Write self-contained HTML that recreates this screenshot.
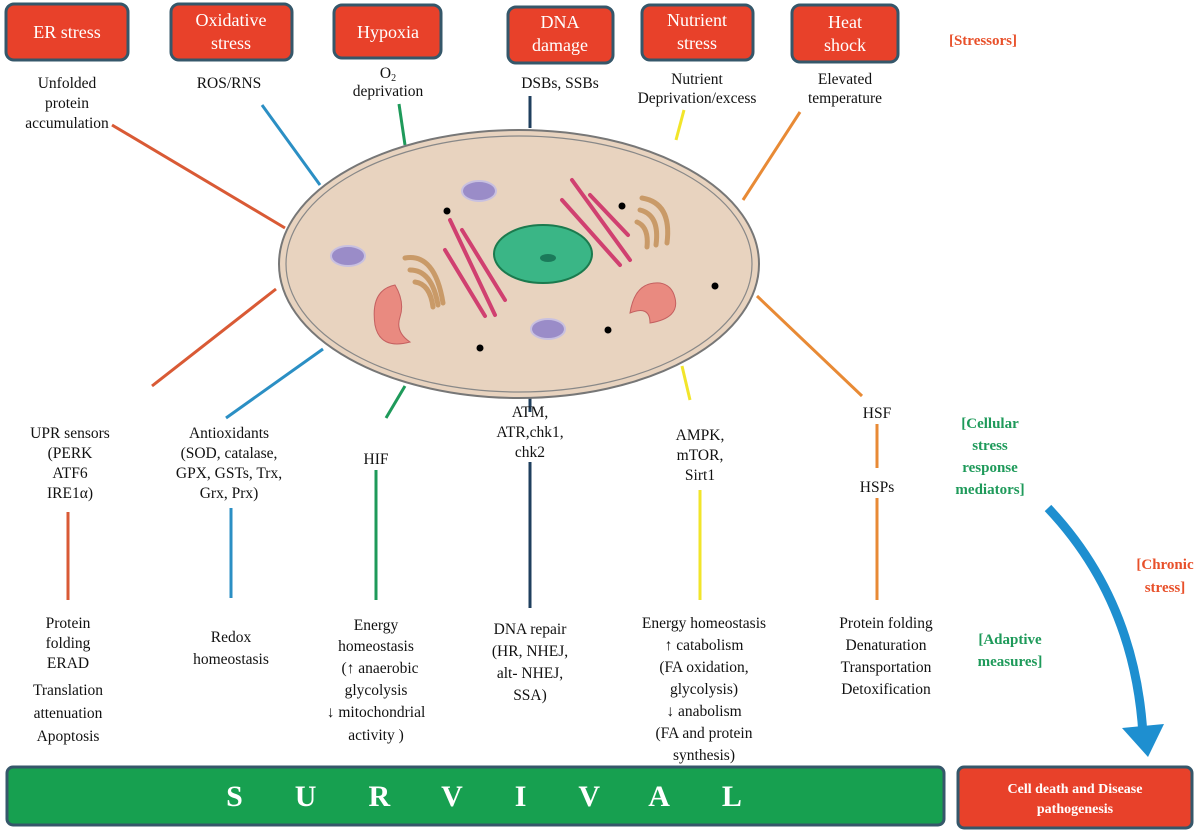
<!DOCTYPE html>
<html><head><meta charset="utf-8"><style>
body{margin:0;background:#fff;}
svg{display:block;font-family:"Liberation Serif",serif;}
.b{fill:#e8412a;stroke:#35576a;stroke-width:3;}
.bt{fill:#fff;font-size:18px;text-anchor:middle;}
.t{fill:#111;font-size:15.5px;text-anchor:middle;}
</style></head><body>
<svg width="1200" height="831" viewBox="0 0 1200 831">
<rect class="b" x="6" y="4" width="122" height="56" rx="8"/><text class="bt" x="67" y="38">ER stress</text>
<rect class="b" x="171" y="4" width="121" height="56" rx="8"/><text class="bt" x="231" y="26">Oxidative</text><text class="bt" x="231" y="49">stress</text>
<rect class="b" x="334" y="5" width="107" height="53" rx="8"/><text class="bt" x="388" y="38">Hypoxia</text>
<rect class="b" x="508" y="7" width="105" height="56" rx="8"/><text class="bt" x="560" y="28">DNA</text><text class="bt" x="560" y="51">damage</text>
<rect class="b" x="642" y="5" width="111" height="55" rx="8"/><text class="bt" x="697" y="26">Nutrient</text><text class="bt" x="697" y="49">stress</text>
<rect class="b" x="792" y="5" width="106" height="57" rx="8"/><text class="bt" x="845" y="28">Heat</text><text class="bt" x="845" y="51">shock</text>
<text x="983" y="45" style="fill:#e8502a;font-size:15px;font-weight:bold;text-anchor:middle">[Stressors]</text>

<text class="t" x="67" y="88">Unfolded</text><text class="t" x="67" y="108">protein</text><text class="t" x="67" y="128">accumulation</text>
<text class="t" x="229" y="88">ROS/RNS</text>
<text class="t" x="388" y="78">O<tspan font-size="10" dy="3">2</tspan></text><text class="t" x="388" y="96">deprivation</text>
<text class="t" x="560" y="88">DSBs, SSBs</text>
<text class="t" x="697" y="84">Nutrient</text><text class="t" x="697" y="103">Deprivation/excess</text>
<text class="t" x="845" y="84">Elevated</text><text class="t" x="845" y="103">temperature</text>

<g stroke-width="3" fill="none">
<line x1="112" y1="125" x2="285" y2="228" stroke="#d95a35"/>
<line x1="276" y1="289" x2="152" y2="386" stroke="#d95a35"/>
<line x1="68" y1="512" x2="68" y2="600" stroke="#d95a35"/>
<line x1="262" y1="105" x2="320" y2="185" stroke="#2b8fc4"/>
<line x1="323" y1="349" x2="226" y2="418" stroke="#2b8fc4"/>
<line x1="231" y1="508" x2="231" y2="598" stroke="#2b8fc4"/>
<line x1="399" y1="104" x2="405" y2="145" stroke="#1e9a5a"/>
<line x1="405" y1="386" x2="386" y2="418" stroke="#1e9a5a"/>
<line x1="376" y1="470" x2="376" y2="600" stroke="#1e9a5a"/>
<line x1="530" y1="96" x2="530" y2="128" stroke="#1f3f5e"/>
<line x1="530" y1="398" x2="530" y2="412" stroke="#1f3f5e"/>
<line x1="530" y1="462" x2="530" y2="608" stroke="#1f3f5e"/>
<line x1="684" y1="110" x2="676" y2="140" stroke="#f2e52a"/>
<line x1="682" y1="366" x2="690" y2="400" stroke="#f2e52a"/>
<line x1="700" y1="490" x2="700" y2="600" stroke="#f2e52a"/>
<line x1="800" y1="112" x2="743" y2="200" stroke="#e88a35"/>
<line x1="757" y1="296" x2="862" y2="396" stroke="#e88a35"/>
<line x1="877" y1="424" x2="877" y2="468" stroke="#e88a35"/>
<line x1="877" y1="498" x2="877" y2="600" stroke="#e88a35"/>
</g>

<ellipse cx="519" cy="264" rx="240" ry="134" fill="#e8d3bf" stroke="#777" stroke-width="2"/>
<ellipse cx="519" cy="264" rx="233" ry="128" fill="none" stroke="#888" stroke-width="1.2"/>
<ellipse cx="543" cy="254" rx="49" ry="29" fill="#3ab686" stroke="#1b7a4e" stroke-width="2"/>
<ellipse cx="548" cy="258" rx="8" ry="4" fill="#1b7a5a"/>
<ellipse cx="479" cy="191" rx="17" ry="10" fill="#9a8cc8" stroke="#c8c0e0" stroke-width="2"/>
<ellipse cx="348" cy="256" rx="17" ry="10" fill="#9a8cc8" stroke="#c8c0e0" stroke-width="2"/>
<ellipse cx="548" cy="329" rx="17" ry="10" fill="#9a8cc8" stroke="#c8c0e0" stroke-width="2"/>
<path d="M395 285 q-25 5 -20 40 q5 25 35 17 q-15 -10 -10 -25 q5 -15 -5 -32z" fill="#e98a80" stroke="#c46060"/>
<path d="M660 283 q-25 -2 -30 30 q20 -8 20 10 q30 -5 25 -25 q-3 -13 -15 -15z" fill="#e98a80" stroke="#c46060"/>
<g fill="none" stroke="#c99a68" stroke-width="5" stroke-linecap="round">
<path d="M405 258 q30 -5 38 45"/><path d="M410 270 q22 0 28 35"/><path d="M415 282 q15 2 18 25"/>
<path d="M642 198 q30 5 25 45"/><path d="M640 210 q20 5 16 35"/><path d="M637 222 q12 5 10 25"/>
</g>
<g stroke="#d04070" stroke-width="4" stroke-linecap="round">
<line x1="450" y1="220" x2="495" y2="315"/><line x1="462" y1="230" x2="505" y2="300"/><line x1="445" y1="250" x2="485" y2="316"/>
<line x1="572" y1="180" x2="630" y2="260"/><line x1="562" y1="200" x2="620" y2="265"/><line x1="590" y1="195" x2="628" y2="235"/>
</g>
<g fill="#000"><circle cx="447" cy="211" r="3.5"/><circle cx="622" cy="206" r="3.5"/><circle cx="715" cy="286" r="3.5"/><circle cx="608" cy="330" r="3.5"/><circle cx="480" cy="348" r="3.5"/></g>

<text class="t" x="70" y="438">UPR sensors</text><text class="t" x="70" y="458">(PERK</text><text class="t" x="70" y="478">ATF6</text><text class="t" x="70" y="498">IRE1α)</text>
<text class="t" x="229" y="438">Antioxidants</text><text class="t" x="229" y="458">(SOD, catalase,</text><text class="t" x="229" y="478">GPX, GSTs, Trx,</text><text class="t" x="229" y="498">Grx, Prx)</text>
<text class="t" x="376" y="464">HIF</text>
<text class="t" x="530" y="417">ATM,</text><text class="t" x="530" y="437">ATR,chk1,</text><text class="t" x="530" y="457">chk2</text>
<text class="t" x="700" y="440">AMPK,</text><text class="t" x="700" y="460">mTOR,</text><text class="t" x="700" y="480">Sirt1</text>
<text class="t" x="877" y="418">HSF</text><text class="t" x="877" y="492">HSPs</text>
<g style="fill:#1e9a5a;font-size:15px;font-weight:bold;text-anchor:middle">
<text x="990" y="428">[Cellular</text><text x="990" y="450">stress</text><text x="990" y="472">response</text><text x="990" y="494">mediators]</text>
<text x="1010" y="644">[Adaptive</text><text x="1010" y="666">measures]</text></g>
<g style="fill:#e8502a;font-size:15px;font-weight:bold;text-anchor:middle">
<text x="1165" y="569">[Chronic</text><text x="1165" y="592">stress]</text></g>

<text class="t" x="68" y="628">Protein</text><text class="t" x="68" y="648">folding</text><text class="t" x="68" y="668">ERAD</text><text class="t" x="68" y="695">Translation</text><text class="t" x="68" y="718">attenuation</text><text class="t" x="68" y="741">Apoptosis</text>
<text class="t" x="231" y="642">Redox</text><text class="t" x="231" y="664">homeostasis</text>
<text class="t" x="376" y="630">Energy</text><text class="t" x="376" y="651">homeostasis</text><text class="t" x="380" y="673">(↑ anaerobic</text><text class="t" x="376" y="695">glycolysis</text><text class="t" x="376" y="717">↓ mitochondrial</text><text class="t" x="376" y="740">activity )</text>
<text class="t" x="530" y="634">DNA repair</text><text class="t" x="530" y="656">(HR, NHEJ,</text><text class="t" x="530" y="678">alt- NHEJ,</text><text class="t" x="530" y="700">SSA)</text>
<text class="t" x="704" y="628">Energy homeostasis</text><text class="t" x="704" y="650">↑ catabolism</text><text class="t" x="704" y="672">(FA oxidation,</text><text class="t" x="704" y="694">glycolysis)</text><text class="t" x="704" y="716">↓ anabolism</text><text class="t" x="704" y="738">(FA and protein</text><text class="t" x="704" y="760">synthesis)</text>
<text class="t" x="886" y="628">Protein folding</text><text class="t" x="886" y="650">Denaturation</text><text class="t" x="886" y="672">Transportation</text><text class="t" x="886" y="694">Detoxification</text>

<path d="M1048 508 Q1135 600 1143 735" fill="none" stroke="#1e8fd0" stroke-width="9"/>
<polygon points="1122,728 1164,724 1148,757" fill="#1e8fd0"/>

<rect x="7" y="767" width="937" height="58" rx="6" fill="#17a050" stroke="#35576a" stroke-width="3"/>
<text x="510" y="806" style="fill:#fff;font-size:30px;font-weight:bold;text-anchor:middle;letter-spacing:52px">SURVIVAL</text>
<rect x="958" y="767" width="234" height="61" rx="6" class="b"/>
<text x="1075" y="793" style="fill:#fff;font-size:14px;font-weight:bold;text-anchor:middle">Cell death and Disease</text>
<text x="1075" y="813" style="fill:#fff;font-size:14px;font-weight:bold;text-anchor:middle">pathogenesis</text>
</svg>
</body></html>
